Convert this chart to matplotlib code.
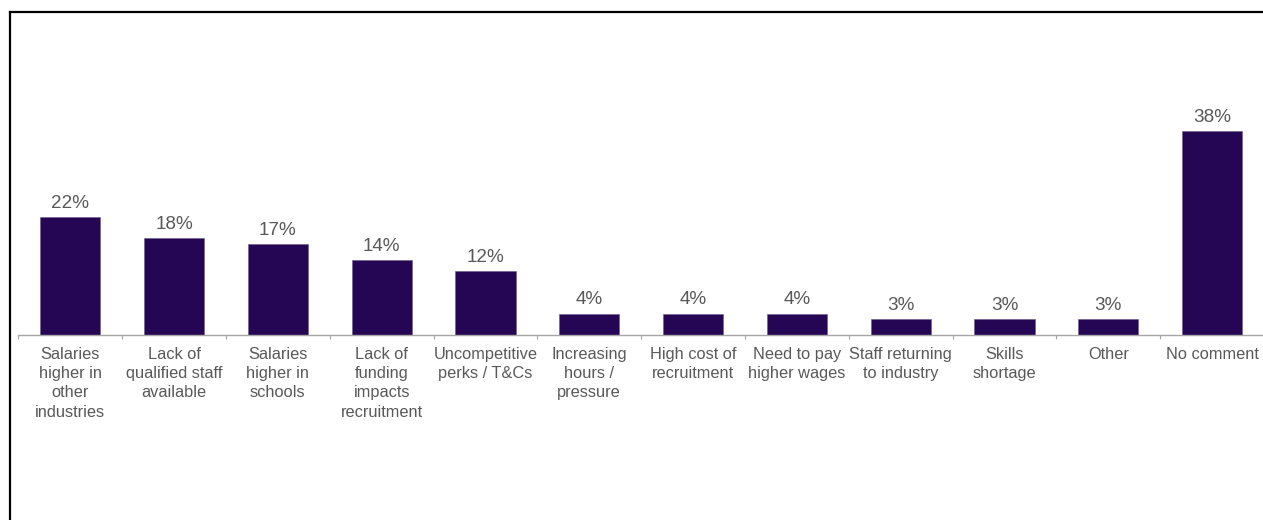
import matplotlib
matplotlib.use("Agg")
import matplotlib.pyplot as plt
from matplotlib.lines import Line2D
import numpy as np

plt.rcParams["font.family"] = ["Liberation Sans", "DejaVu Sans"]

categories = [
    "Salaries\nhigher in\nother\nindustries",
    "Lack of\nqualified staff\navailable",
    "Salaries\nhigher in\nschools",
    "Lack of\nfunding\nimpacts\nrecruitment",
    "Uncompetitive\nperks / T&Cs",
    "Increasing\nhours /\npressure",
    "High cost of\nrecruitment",
    "Need to pay\nhigher wages",
    "Staff returning\nto industry",
    "Skills\nshortage",
    "Other",
    "No comment",
]
values = [22, 18, 17, 14, 12, 4, 4, 4, 3, 3, 3, 38]

bar_color = "#250654"
text_color = "#595959"
axis_color = "#a6a6a6"

W, H = 1263, 520
fig = plt.figure(figsize=(W / 100, H / 100), dpi=100)

# axes: baseline at y=335px, spans x 18.3 -> 1264px
left, right = 18.3, 1264.0
base_y, top_y = 335.0, 335.0 - 40 * 5.37
ax = fig.add_axes([left / W, (H - base_y) / H, (right - left) / W, (base_y - top_y) / H])

x = np.arange(len(values))
bars = ax.bar(x, values, width=0.58, color=bar_color, edgecolor="#6a5a8a", linewidth=0.4)

for b, v in zip(bars, values):
    ax.annotate(f"{v}%", (b.get_x() + b.get_width() / 2, v), xytext=(0, 6.5),
                textcoords="offset points", ha="center", va="baseline",
                fontsize=13.6, color=text_color)

ax.set_xlim(-0.5, len(values) - 0.5)
ax.set_ylim(0, 40)

ax.set_xticks(x)
ax.set_xticklabels(categories, fontsize=11.8, color=text_color, linespacing=1.36)
ax.tick_params(axis="x", which="major", length=0, pad=8.4)
ax.set_xticks(np.arange(len(values)) - 0.5, minor=True)
ax.tick_params(axis="x", which="minor", length=3, width=0.8, color=axis_color, direction="out")
ax.set_yticks([])

for s in ["top", "right", "left"]:
    ax.spines[s].set_visible(False)
ax.spines["bottom"].set_color(axis_color)
ax.spines["bottom"].set_linewidth(1.0)

# frame around the picture (left and top edges visible)
fig.add_artist(Line2D([10 / W, 10 / W], [0, 1 - 12 / H], color="black", lw=1.6,
                      transform=fig.transFigure))
fig.add_artist(Line2D([10 / W, 1], [1 - 12 / H, 1 - 12 / H], color="black", lw=1.6,
                      transform=fig.transFigure))

fig.savefig("out.png", dpi=100)
